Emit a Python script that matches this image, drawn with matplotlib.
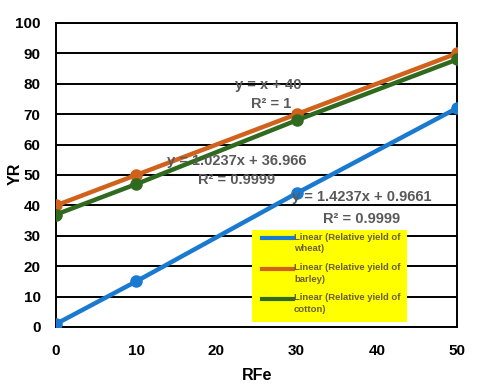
import matplotlib
matplotlib.use("Agg")
import matplotlib.pyplot as plt
from matplotlib.patches import Rectangle
from matplotlib.lines import Line2D

plt.rcParams['font.family'] = ['Liberation Sans', 'DejaVu Sans']

# data
rfe = [0, 10, 30, 50]
wheat = [1, 15, 44, 72]
barley = [40, 50, 70, 90]
cotton = [37, 47, 68, 88]

series_labels = ['Linear (Relative yield of\nwheat)',
                 'Linear (Relative yield of\nbarley)',
                 'Linear (Relative yield of\ncotton)']
series_colors = ['#1a7ad0', '#d0621c', '#2f6a1e']

eq_wheat = ['y = 1.4237x + 0.9661', 'R² = 0.9999']
eq_barley = ['y = x + 40', 'R² = 1']
eq_cotton = ['y = 1.0237x + 36.966', 'R² = 0.9999']

W, H = 480, 386
fig = plt.figure(figsize=(4.8, 3.86), dpi=100)
ax = fig.add_axes([56 / W, 1 - 327 / H, 401 / W, 304 / H])

for ys, col in zip([wheat, barley, cotton], series_colors):
    ax.plot(rfe, ys, color=col, lw=3.2, marker='o', ms=8, zorder=3)

ax.set_xlim(0, 50)
ax.set_ylim(0, 100)
ax.set_xticks([0, 10, 20, 30, 40, 50])
ax.set_yticks(range(0, 101, 10))
ax.yaxis.grid(True, color='black', lw=1.4)
ax.set_axisbelow(True)
for s in ax.spines.values():
    s.set_color('black')
    s.set_linewidth(1.4)
ax.tick_params(length=0, labelsize=11)
ax.tick_params(axis='y', pad=11)
ax.tick_params(axis='x', pad=12)
for lab in ax.get_xticklabels() + ax.get_yticklabels():
    lab.set_fontweight('bold')

fig.text(15 / W, 1 - 174 / H, 'YR', rotation=90, fontsize=11.5, fontweight='bold',
         ha='center', va='center')
fig.text(257 / W, 1 - 375 / H, 'RFe', fontsize=11.5, fontweight='bold',
         ha='center', va='center')

# trendline equations
eq_color = '#595959'
eq_pos = [(eq_barley, 268, 85, 271, 104),
          (eq_cotton, 237, 161, 237, 180),
          (eq_wheat, 362, 197, 362, 219)]
for eq, x1, y1, x2, y2 in eq_pos:
    fig.text(x1 / W, 1 - y1 / H, eq[0], fontsize=10.5, fontweight='bold',
             color=eq_color, ha='center', va='center')
    fig.text(x2 / W, 1 - y2 / H, eq[1], fontsize=10.5, fontweight='bold',
             color=eq_color, ha='center', va='center')

# legend box (yellow), drawn by hand so the handles sit on the first text line
fig.add_artist(Rectangle((252 / W, 1 - 322 / H), 155 / W, 92 / H,
                         transform=fig.transFigure, facecolor='#ffff00',
                         edgecolor='none', zorder=5))
for i, (lab, col) in enumerate(zip(series_labels, series_colors)):
    yc = 238 + i * 30.5
    fig.add_artist(Line2D([262 / W, 293 / W], [1 - yc / H, 1 - yc / H],
                          transform=fig.transFigure, color=col, lw=3, zorder=6))
    fig.text(294 / W, 1 - (yc - 5.5) / H, lab, fontsize=6.8, fontweight='bold',
             color='#6b6034', ha='left', va='top', linespacing=1.4, zorder=6)

fig.savefig('out.png', dpi=100)
